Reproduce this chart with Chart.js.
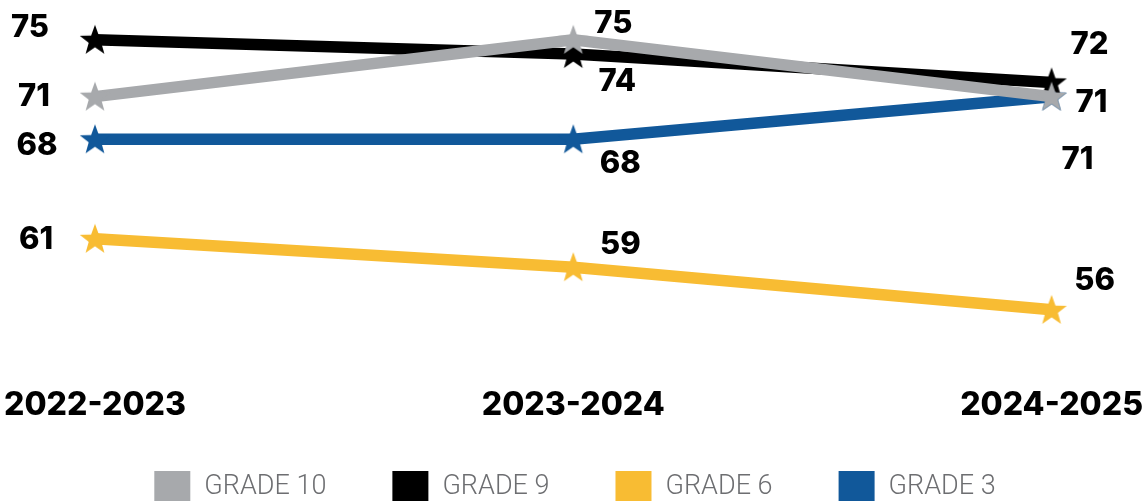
<!DOCTYPE html>
<html><head><meta charset="utf-8">
<script src="https://cdn.jsdelivr.net/npm/chart.js@4/dist/chart.umd.min.js"></script>
<style>html,body{margin:0;padding:0;background:#fff;}#wrap{width:1144px;height:501px;}</style>
</head><body><div id="wrap"><canvas id="c" width="1144" height="501"></canvas></div>
<script>
const categories = ['2022-2023', '2023-2024', '2024-2025'];
const grade10 = [71, 75, 71];
const grade9 = [75, 74, 72];
const grade6 = [61, 59, 56];
const grade3 = [68, 68, 71];
const seriesNames = ['GRADE 10', 'GRADE 9', 'GRADE 6', 'GRADE 3'];

const colors = ['#A7A9AC', '#000000', '#F8BC33', '#11589A'];
// label offsets (pixels) per series/point
const labelOffsets = [
  [[-61, 0], [40, -16], [40, 6]],
  [[-65, -12], [44, 28], [38, -38]],
  [[-59, 1], [47, -23], [43, -29]],
  [[-58, 6], [47, 24], [26, 63]]
];

function starImg(color) {
  const s = 36, c = document.createElement('canvas');
  c.width = s; c.height = s;
  const g = c.getContext('2d');
  const R = 16, r = 6.6, cx = s / 2, cy = s / 2 + 1;
  g.beginPath();
  for (let i = 0; i < 10; i++) {
    const a = -Math.PI / 2 + i * Math.PI / 5;
    const rad = i % 2 ? r : R;
    g.lineTo(cx + rad * Math.cos(a), cy + rad * Math.sin(a));
  }
  g.closePath();
  g.fillStyle = color; g.fill();
  return c;
}

const values = [grade10, grade9, grade6, grade3];
const datasets = values.map((v, i) => ({
  label: seriesNames[i],
  data: v,
  borderColor: colors[i],
  backgroundColor: colors[i],
  borderWidth: 11.5,
  pointStyle: starImg(colors[i]),
  pointRadius: 16,
  tension: 0,
  fill: false
}));

const labelPlugin = {
  id: 'valLabels',
  afterDatasetsDraw(chart) {
    const ctx = chart.ctx;
    ctx.save();
    ctx.font = '800 31px Inter';
    ctx.fillStyle = '#000';
    ctx.textAlign = 'center';
    ctx.textBaseline = 'middle';
    chart.data.datasets.forEach((ds, i) => {
      const meta = chart.getDatasetMeta(i);
      meta.data.forEach((pt, j) => {
        const o = labelOffsets[i][j];
        ctx.fillText(String(ds.data[j]), pt.x + o[0], pt.y + o[1]);
      });
    });
    ctx.restore();
  }
};

const legendPlugin = {
  id: 'customLegend',
  afterDraw(chart) {
    const ctx = chart.ctx;
    ctx.save();
    ctx.font = '300 27px Roboto';
    const box = 36, gapText = 14, gapItem = 66;
    const items = chart.data.datasets.map(d => ({ text: d.label, color: d.borderColor, w: ctx.measureText(d.label).width }));
    let total = 0;
    items.forEach((it, k) => { total += box + gapText + it.w + (k < items.length - 1 ? gapItem : 0); });
    let x = 575 - total / 2;
    const top = 471;
    ctx.textBaseline = 'middle';
    ctx.textAlign = 'left';
    items.forEach(it => {
      ctx.fillStyle = it.color;
      ctx.fillRect(x, top, box, box);
      ctx.fillStyle = '#6D6E71';
      ctx.fillText(it.text, x + box + gapText, top + 16);
      x += box + gapText + it.w + gapItem;
    });
    ctx.restore();
  }
};

new Chart(document.getElementById('c'), {
  type: 'line',
  data: { labels: categories, datasets },
  options: {
    responsive: false,
    animation: false,
    layout: { autoPadding: false, padding: { left: 95, right: 92, top: 0, bottom: 75 } },
    scales: {
      x: {
        offset: false,
        grid: { display: false, drawTicks: false },
        border: { display: false },
        ticks: { color: '#000', font: { family: 'Inter', size: 32, weight: '800' }, padding: 1, maxRotation: 0 }
      },
      y: { display: false, min: 50.67, max: 77.8 }
    },
    plugins: {
      legend: { display: false },
      tooltip: { enabled: false }
    }
  },
  plugins: [labelPlugin, legendPlugin]
});
</script></body></html>
